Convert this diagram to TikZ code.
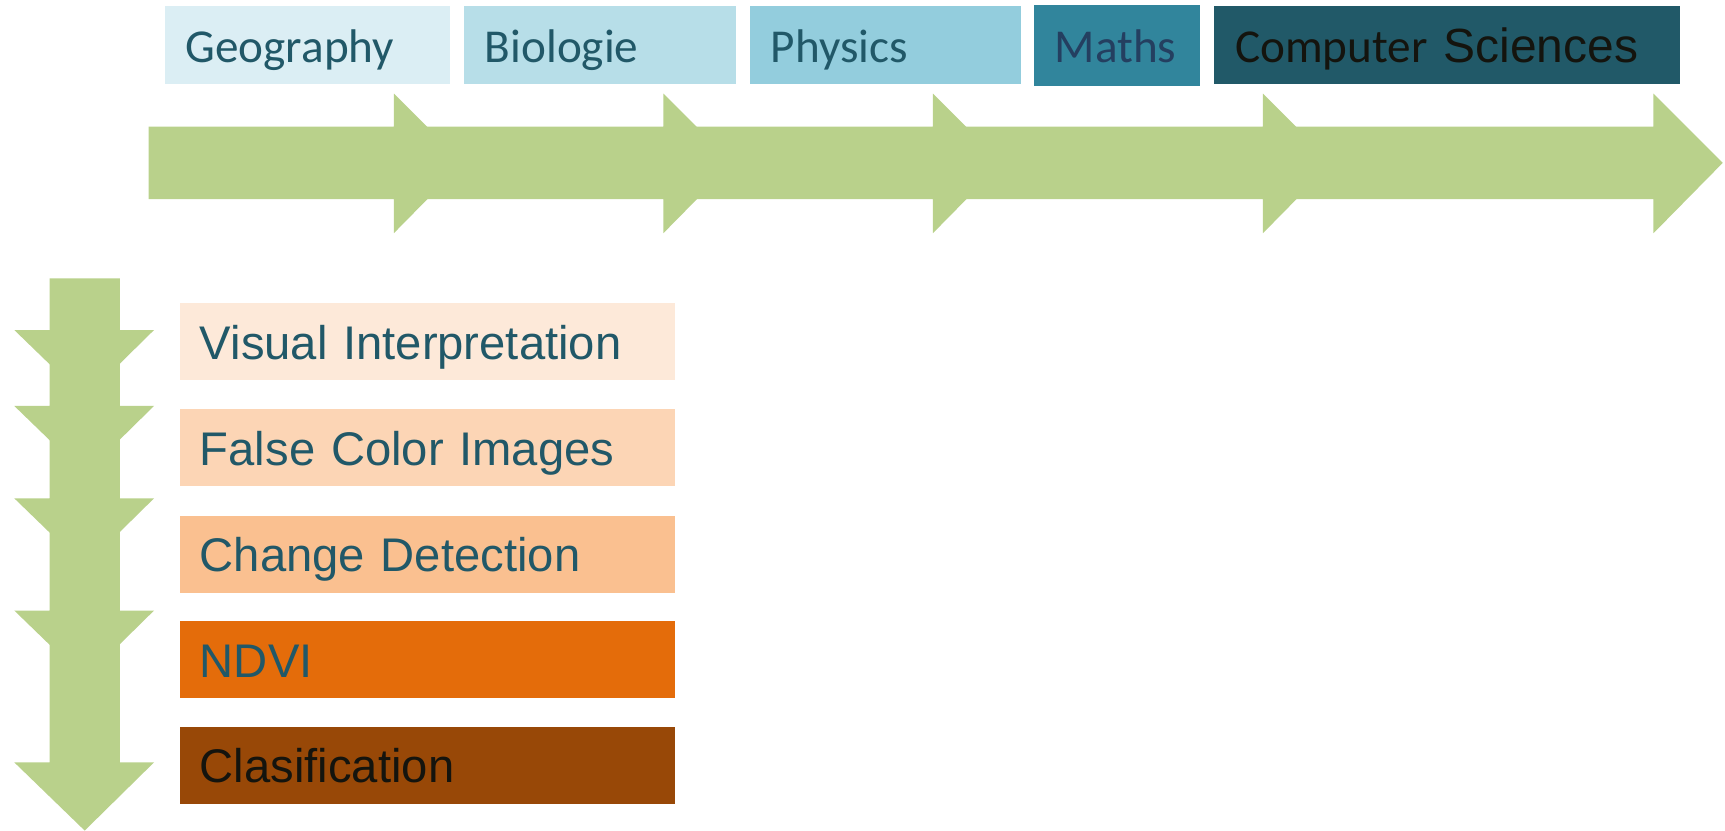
\documentclass[tikz,border=0pt]{standalone}
\usepackage{fontspec}
\setmainfont{Liberation Sans}
\newfontfamily\carlito{Carlito}
\usepackage{tikz}

\definecolor{chaingreen}{HTML}{B9D18B}
\definecolor{labelteal}{HTML}{215868}
\definecolor{mathsblue}{HTML}{243F60}
\definecolor{nearblack}{HTML}{14140E}
\definecolor{geofill}{HTML}{DBEEF4}
\definecolor{biofill}{HTML}{B7DEE8}
\definecolor{physfill}{HTML}{93CDDD}
\definecolor{mathfill}{HTML}{31859C}
\definecolor{compfill}{HTML}{215968}
\definecolor{visfill}{HTML}{FDE9D9}
\definecolor{falsefill}{HTML}{FCD5B5}
\definecolor{changefill}{HTML}{FAC090}
\definecolor{ndvifill}{HTML}{E46C0A}
\definecolor{clasfill}{HTML}{984807}

\tikzset{
  subject/.style={anchor=north west, inner xsep=0.19cm, inner ysep=0pt,
    minimum height=0.71cm, text height=0.42cm, text depth=0.10cm, align=left,
    text=labelteal, font=\carlito\fontsize{12.2}{14}\selectfont},
  method/.style={anchor=north west, inner xsep=0.18cm, inner ysep=0pt,
    minimum height=0.70cm, text height=0.42cm, text depth=0.10cm, align=left,
    text width=4.14cm, text=labelteal, font=\fontsize{12.2}{14}\selectfont},
}

\begin{document}
\begin{tikzpicture}[x=0.01cm,y=-0.01cm]
\useasboundingbox (0,0) rectangle (1568,755);
% horizontal chain of arrows
\foreach \s/\h in {135/358,358/603,603/848,848/1148,1148/1503}
  \fill[chaingreen] (\s,115) -- (\h,115) -- (\h,85) -- ({\h+63},148) -- (\h,212) -- (\h,181) -- (\s,181) -- cycle;
% vertical chain of arrows
\foreach \s/\h in {253/300,300/369,369/453,453/555,555/693}
  \fill[chaingreen] (45,\s) -- (45,\h) -- (13,\h) -- (77,{\h+62}) -- (140,\h) -- (109,\h) -- (109,\s) -- cycle;
% subjects
\node[subject, fill=geofill, text width=2.21cm] (geo) at (149,5) {Geography};
\node[subject, fill=biofill, text width=2.09cm] (bio) at (421,5) {Biologie};
\node[subject, fill=physfill, text width=2.08cm] (phys) at (681,5) {Physics};
\node[subject, fill=mathfill, text width=1.13cm, minimum height=0.73cm, text=mathsblue] (maths) at (939,4) {Maths};
\node[subject, fill=compfill, text width=3.85cm, text=nearblack] (comp) at (1103,5) {Computer {\setmainfont{Liberation Sans}\fontsize{12.4}{14}\selectfont Sciences}};
% methods
\node[method, fill=visfill] (visual) at (163,275) {Visual Interpretation};
\node[method, fill=falsefill] (false) at (163,371) {False Color Images};
\node[method, fill=changefill] (change) at (163,468) {Change Detection};
\node[method, fill=ndvifill] (ndvi) at (163,564) {NDVI};
\node[method, fill=clasfill, text=nearblack] (clas) at (163,660) {Clasification};
\end{tikzpicture}
\end{document}
